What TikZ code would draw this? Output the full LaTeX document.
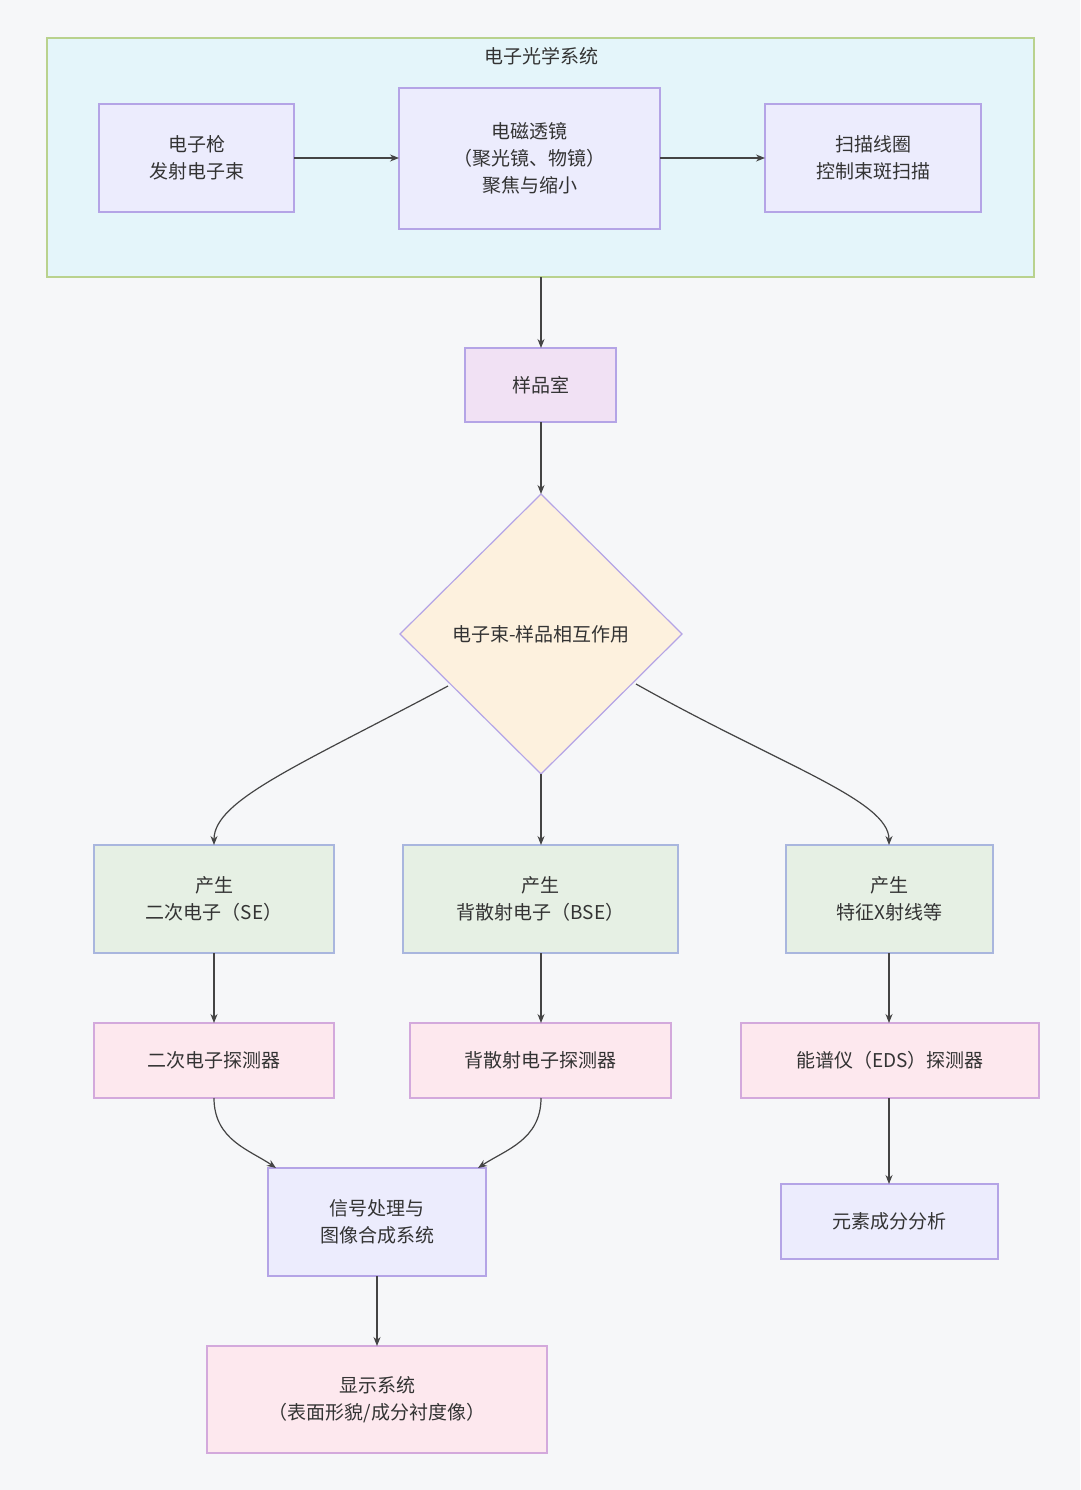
\documentclass[tikz,border=0pt]{standalone}
\usepackage{fontspec}
\newfontfamily\cjk{Noto Sans CJK SC}
\usetikzlibrary{arrows.meta}
\definecolor{bg}{HTML}{F6F7F9}
\definecolor{grpfill}{HTML}{E4F5FA}
\definecolor{grpline}{HTML}{B9D28E}
\definecolor{lav}{HTML}{ECECFD}
\definecolor{lavline}{HTML}{B4A4E6}
\definecolor{purp}{HTML}{F1E1F4}
\definecolor{dia}{HTML}{FDF1DE}
\definecolor{grn}{HTML}{E6F0E4}
\definecolor{grnline}{HTML}{A9B6DE}
\definecolor{pink}{HTML}{FDE8EE}
\definecolor{pinkline}{HTML}{D3A9DC}
\definecolor{ln}{HTML}{444444}
\begin{document}
\begin{tikzpicture}[x=1pt,y=-1pt,
  every node/.style={font=\cjk\fontsize{19}{27}\selectfont,text=black!80,align=center},
  box/.style={draw=lavline,line width=1.2pt,fill=lav},
  e/.style={draw=ln,line width=1.2pt,-{Stealth[length=9pt,width=7pt]}}]
\fill[bg] (0,0) rectangle (1080,1490);
\useasboundingbox (0,0) rectangle (1080,1490);
\draw[grpline,fill=grpfill,line width=1.2pt] (47,38) rectangle (1034,277);
\node (title) at (541,56) {电子光学系统};
\draw[box] (99,104) rectangle (294,212); \node (gun) at (196.5,158) {电子枪\\发射电子束};
\draw[box] (399,88) rectangle (660,229); \node (lens) at (529.5,158) {电磁透镜\\（聚光镜、物镜）\\聚焦与缩小};
\draw[box] (765,104) rectangle (981,212); \node (scan) at (873,158) {扫描线圈\\控制束斑扫描};
\coordinate (gunE) at (294,158); \coordinate (lensW) at (399,158);
\coordinate (lensE) at (660,158); \coordinate (scanW) at (765,158);
\draw[e] (gunE) -- (lensW); \draw[e] (lensE) -- (scanW);
\coordinate (grpS) at (541,277);
\draw[box,fill=purp] (465,348) rectangle (616,422); \node (room) at (540.5,385) {样品室};
\coordinate (roomN) at (541,348); \coordinate (roomS) at (541,422);
\draw[e] (grpS) -- (roomN);
\coordinate (dN) at (541,494); \coordinate (dS) at (541,774);
\draw[draw=lavline,fill=dia,line width=1.2pt] (541,494) -- (682,634) -- (541,774) -- (400,634) -- cycle;
\node (dia) at (541,634) {电子束-样品相互作用};
\draw[e] (roomS) -- (dN);
\draw[box,fill=grn,draw=grnline] (94,845) rectangle (334,953); \node (se) at (214,899) {产生\\二次电子（SE）};
\draw[box,fill=grn,draw=grnline] (403,845) rectangle (678,953); \node (bse) at (540.5,899) {产生\\背散射电子（BSE）};
\draw[box,fill=grn,draw=grnline] (786,845) rectangle (993,953); \node (x) at (889.5,899) {产生\\特征X射线等};
\coordinate (dL) at (448,686); \coordinate (dR) at (636,684);
\coordinate (seN) at (214,845); \coordinate (bseN) at (541,845); \coordinate (xN) at (889,845);
\draw[e] (dL) .. controls (300,765) and (214,800) .. (seN);
\draw[e] (dS) -- (bseN);
\draw[e] (dR) .. controls (780,765) and (889,800) .. (xN);
\draw[box,fill=pink,draw=pinkline] (94,1023) rectangle (334,1098); \node (d1) at (214,1060) {二次电子探测器};
\draw[box,fill=pink,draw=pinkline] (410,1023) rectangle (671,1098); \node (d2) at (540.5,1060) {背散射电子探测器};
\draw[box,fill=pink,draw=pinkline] (741,1023) rectangle (1039,1098); \node (d3) at (890,1060) {能谱仪（EDS）探测器};
\draw[e] (214,953) -- (214,1023);
\draw[e] (541,953) -- (541,1023);
\draw[e] (889,953) -- (889,1023);
\draw[box] (268,1168) rectangle (486,1276); \node (sig) at (377,1222) {信号处理与\\图像合成系统};
\draw[box] (781,1184) rectangle (998,1259); \node (el) at (889.5,1221) {元素成分分析};
\draw[e] (214,1098) .. controls (214,1140) and (250,1150) .. (276,1168);
\draw[e] (541,1098) .. controls (541,1140) and (505,1150) .. (478,1168);
\draw[e] (889,1098) -- (889,1184);
\draw[box,fill=pink,draw=pinkline] (207,1346) rectangle (547,1453); \node (disp) at (377,1399.5) {显示系统\\（表面形貌/成分衬度像）};
\draw[e] (377,1276) -- (377,1346);
\end{tikzpicture}
\end{document}
